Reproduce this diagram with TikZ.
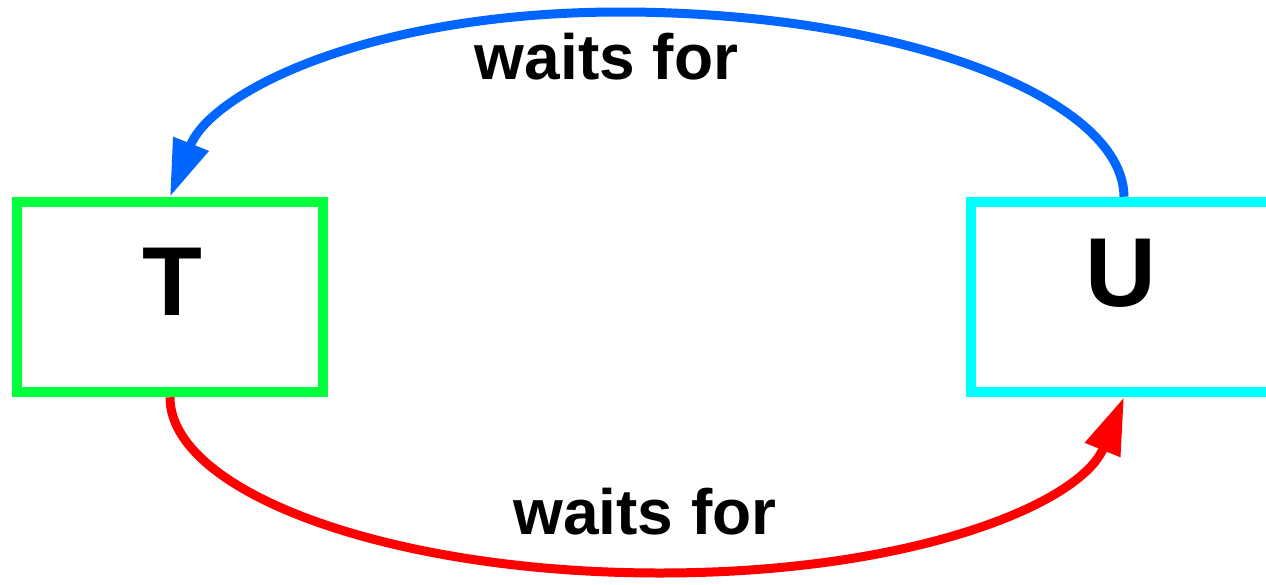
\documentclass[tikz,border=0pt]{standalone}
\usepackage{fontspec}
\setmainfont{Liberation Sans}
\usetikzlibrary{arrows.meta}
\definecolor{boxgreen}{HTML}{00FF3C}
\definecolor{boxcyan}{HTML}{00FFFF}
\definecolor{arrblue}{HTML}{0066FF}
\definecolor{arrred}{HTML}{FF0000}
\tikzset{
  procbox/.style={draw, line width=10.5pt, minimum width=306pt, minimum height=190pt, inner sep=0pt},
  letter/.style={font=\fontsize{98}{100}\selectfont\bfseries, inner sep=0pt, anchor=base},
  lbl/.style={font=\fontsize{64}{70}\selectfont\bfseries, inner sep=0pt, anchor=base},
  waitarrow/.style={line width=9pt, -{Triangle[length=57pt,width=36pt]}}
}
\begin{document}
\begin{tikzpicture}[x=1pt,y=-1pt]
\useasboundingbox (0,0) rectangle (1266,584);
\node[procbox, boxgreen] (T) at (170,297) {};
\node[procbox, boxcyan] (U) at (1124,297) {};
\node[letter] (Tl) at (172,315) {T};
\node[letter] (Ul) at (1121,306) {U};
\coordinate (btop) at (620,12);
\coordinate (rbot) at (660,573);
\draw[waitarrow, arrblue] (U.north) .. controls (1123,97) and (898,12) .. (btop)
  .. controls (372,12) and (212,91) .. (T.north);
\draw[waitarrow, arrred] (T.south) .. controls (170,492) and (389,573) .. (rbot)
  .. controls (915,573) and (1081,503) .. (U.south);
\node[lbl] (lt) at (606.5,79) {waits for};
\node[lbl] (lb) at (645,534) {waits for};
\end{tikzpicture}
\end{document}
